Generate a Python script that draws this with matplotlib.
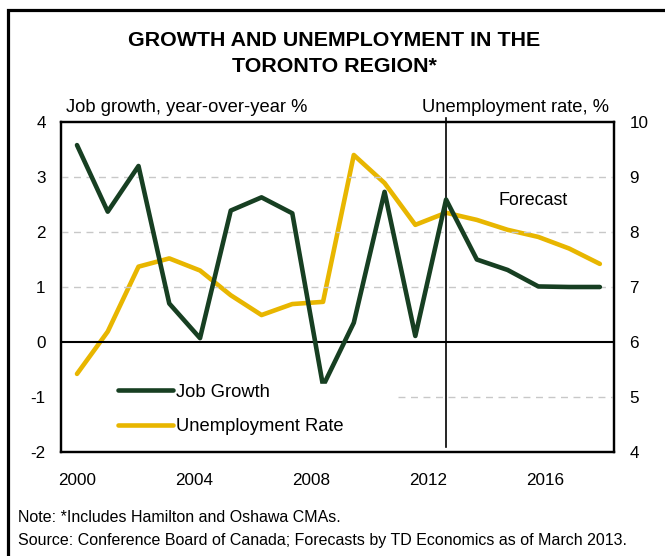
import matplotlib
matplotlib.use("Agg")
import matplotlib.pyplot as plt
from matplotlib.patches import Rectangle

plt.rcParams['font.family'] = ['Liberation Sans', 'DejaVu Sans']
plt.rcParams['axes.unicode_minus'] = False

years = list(range(2000, 2018))
job_growth = [3.58, 2.37, 3.2, 0.7, 0.07, 2.39, 2.63, 2.34, -0.8, 0.35,
              2.73, 0.11, 2.59, 1.5, 1.31, 1.01, 1.0, 1.0]
unemployment = [5.42, 6.19, 7.37, 7.52, 7.3, 6.85, 6.49, 6.69, 6.73, 9.4,
                 8.89, 8.13, 8.35, 8.22, 8.04, 7.91, 7.7, 7.42]
label_years = [2000, 2004, 2008, 2012, 2016]
left_ticks = [-2, -1, 0, 1, 2, 3, 4]
right_ticks = [4, 5, 6, 7, 8, 9, 10]

green = '#173F22'
gold = '#E8B600'

fig = plt.figure(figsize=(6.65, 5.56), dpi=100)
W, H = 665, 556
ax = fig.add_axes([61 / W, (H - 452) / H, (614 - 61) / W, (452 - 122) / H])
ax2 = ax.twinx()

# outer frame (only top/left visible in the crop)
fig.add_artist(Rectangle((7.5 / W, -0.2), 1.5, (H - 9.5) / H + 0.2,
                         transform=fig.transFigure, fill=False, lw=2.3, color='black'))

ax.set_xlim(1999.48, 2017.46)
ax.set_ylim(-2, 4)
ax2.set_ylim(4, 10)

# gridlines
for g in [1, 2, 3]:
    ax.axhline(g, color='#C8C8C8', lw=1, ls=(0, (5, 4)), zorder=0)
ax.axhline(-1, xmin=(398 - 61) / 553, color='#C8C8C8', lw=1, ls=(0, (5, 4)), zorder=0)
ax.axhline(0, color='black', lw=1.5, zorder=1)
ax.axvline(2012, ymin=0.015, ymax=1.012, color='black', lw=1.2, clip_on=False, zorder=1)

l1, = ax.plot(years, job_growth, color=green, lw=3.3, solid_joinstyle='round',
              solid_capstyle='round', zorder=3, label='Job Growth')
l2, = ax2.plot(years, unemployment, color=gold, lw=3.3, solid_joinstyle='round',
               solid_capstyle='round', zorder=3, label='Unemployment Rate')
ax.set_zorder(ax2.get_zorder() + 1)
ax.patch.set_visible(False)

# x tick labels sit slightly left of the data years, as in the original
k = 29.25 / 30.76
ax.set_xticks([2000 + (y - 2000) * k for y in label_years])
ax.set_xticklabels([str(y) for y in label_years])
ax.tick_params(axis='x', length=0, pad=15, labelsize=12.3)
ax.set_yticks(left_ticks)
ax.tick_params(axis='y', length=0, pad=11, labelsize=12.3)
ax2.set_yticks(right_ticks)
ax2.tick_params(axis='y', length=0, pad=11, labelsize=12.3)

for a in (ax, ax2):
    for s in a.spines.values():
        s.set_linewidth(1.6)

leg = ax.legend([l1, l2], ['Job Growth', 'Unemployment Rate'], loc='center left',
                bbox_to_anchor=((118 - 61) / 553, 0.129), frameon=True, fancybox=False,
                facecolor='white', edgecolor='white', framealpha=1, fontsize=13.2,
                handlelength=3.0, handletextpad=0.15, labelspacing=0.95,
                borderpad=0, borderaxespad=0)

ax.text(2014.82, 2.58, 'Forecast', fontsize=12.9, ha='center', va='center', zorder=4)

fig.text(66 / W, 1 - 108 / H, 'Job growth, year-over-year %', fontsize=13.2, va='center')
fig.text(609 / W, 1 - 108 / H, 'Unemployment rate, %', fontsize=13.2, va='center', ha='right')

fig.text(334 / W, 1 - 40 / H, 'GROWTH AND UNEMPLOYMENT IN THE', fontsize=15.4,
         fontweight='bold', ha='center', va='center')
fig.text(334 / W, 1 - 66 / H, 'TORONTO REGION*', fontsize=15.4,
         fontweight='bold', ha='center', va='center')

fig.text(18 / W, 1 - 517 / H, 'Note: *Includes Hamilton and Oshawa CMAs.', fontsize=11.5, va='center')
fig.text(18 / W, 1 - 540 / H,
         'Source: Conference Board of Canada; Forecasts by TD Economics as of March 2013.',
         fontsize=11.5, va='center')

fig.savefig('out.png', dpi=100)
